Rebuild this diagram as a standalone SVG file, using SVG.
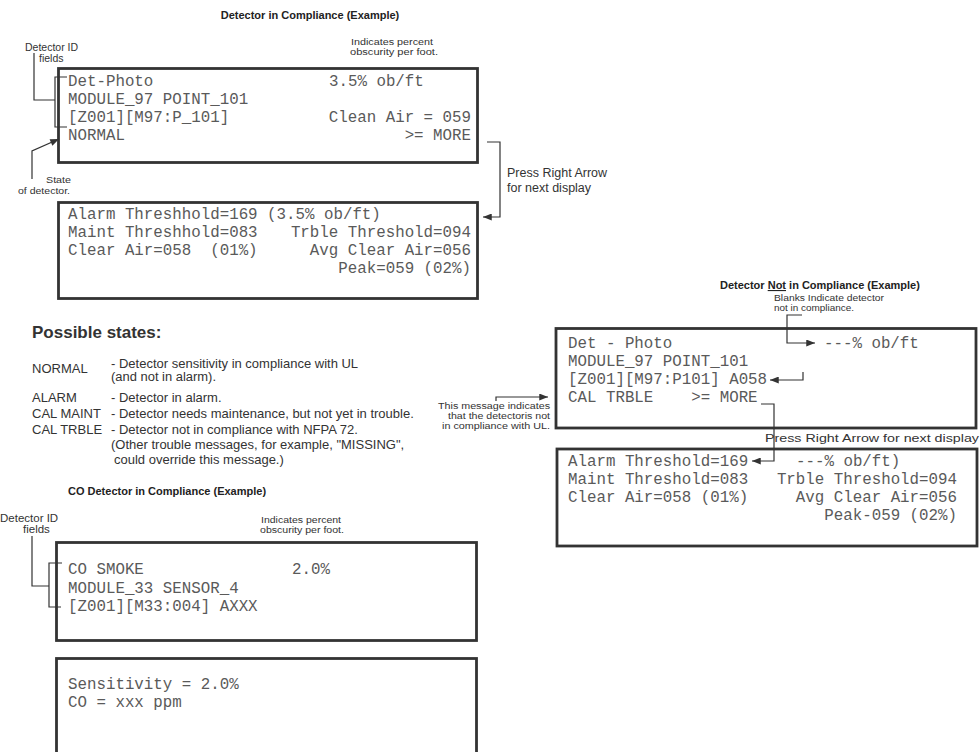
<svg xmlns="http://www.w3.org/2000/svg" width="980" height="752" viewBox="0 0 980 752">
<defs>
<style>
.bg{fill:#ffffff}
.box{fill:#ffffff;stroke:#333333;stroke-width:2.8}
.lcd{font-family:"Liberation Mono","DejaVu Sans Mono",monospace;font-size:15.8px;fill:#5a5a5a}
.ttl{font-family:"Liberation Sans",Arial,sans-serif;font-size:11px;font-weight:bold;fill:#222222}
.ann{font-family:"Liberation Sans",Arial,sans-serif;font-size:10.5px;fill:#333333}
.sm{font-family:"Liberation Sans",Arial,sans-serif;font-size:9.6px;fill:#333333}
.st{font-family:"Liberation Sans",Arial,sans-serif;font-size:13px;fill:#333333}
.hd{font-family:"Liberation Sans",Arial,sans-serif;font-size:17px;font-weight:bold;fill:#333333}
.ln{fill:none;stroke:#333333;stroke-width:1.2}
.end{text-anchor:end}
</style>
<marker id="ah" viewBox="0 0 10 8" refX="10" refY="4" markerWidth="10" markerHeight="7" markerUnits="userSpaceOnUse" orient="auto">
<path d="M0,0 L10,4 L0,8 z" fill="#333333"/>
</marker>
</defs>
<rect class="bg" x="0" y="0" width="980" height="752"/>

<!-- Titles and annotations (left, top) -->
<text class="ttl" x="310" y="19" text-anchor="middle">Detector in Compliance (Example)</text>
<text class="ann" x="25" y="51">Detector ID</text>
<text class="ann" x="39" y="62">fields</text>
<text class="sm" x="351" y="45" textLength="82" lengthAdjust="spacingAndGlyphs">Indicates percent</text>
<text class="sm" x="350" y="55" textLength="88" lengthAdjust="spacingAndGlyphs">obscurity per foot.</text>
<text class="sm end" x="71" y="183" textLength="25" lengthAdjust="spacingAndGlyphs">State</text>
<text class="sm end" x="70" y="194" textLength="52" lengthAdjust="spacingAndGlyphs">of detector.</text>
<text class="st" x="507" y="177" style="font-size:12.5px">Press Right Arrow</text>
<text class="st" x="507" y="192" style="font-size:12.5px">for next display</text>

<!-- Box 1 -->
<g id="display1">
<rect class="box" x="58.5" y="68.5" width="419" height="94"/>
<text class="lcd" x="68" y="86">Det-Photo</text>
<text class="lcd" x="329" y="86">3.5% ob/ft</text>
<text class="lcd" x="68" y="104">MODULE_97 POINT_101</text>
<text class="lcd" x="68" y="122">[Z001][M97:P_101]</text>
<text class="lcd end" x="471" y="122">Clean Air = 059</text>
<text class="lcd" x="68" y="140">NORMAL</text>
<text class="lcd end" x="471" y="140">&gt;= MORE</text>
</g>

<!-- Box 2 -->
<g id="display2">
<rect class="box" x="58.5" y="202.5" width="419" height="96"/>
<text class="lcd" x="68" y="219">Alarm Threshhold=169 (3.5% ob/ft)</text>
<text class="lcd" x="68" y="237">Maint Threshhold=083</text>
<text class="lcd end" x="471" y="237">Trble Threshold=094</text>
<text class="lcd" x="68" y="255" xml:space="preserve">Clear Air=058  (01%)</text>
<text class="lcd end" x="471" y="255">Avg Clear Air=056</text>
<text class="lcd end" x="471" y="273">Peak=059 (02%)</text>
</g>

<!-- Possible states -->
<g id="states">
<text class="hd" x="32" y="338">Possible states:</text>
<text class="st" x="32" y="373">NORMAL</text>
<text class="st" x="111" y="368">- Detector sensitivity in compliance with UL</text>
<text class="st" x="111" y="381" style="font-size:12px" textLength="105" lengthAdjust="spacingAndGlyphs">(and not in alarm).</text>
<text class="st" x="32" y="402">ALARM</text>
<text class="st" x="111" y="402">- Detector in alarm.</text>
<text class="st" x="32" y="418">CAL MAINT</text>
<text class="st" x="111" y="418">- Detector needs maintenance, but not yet in trouble.</text>
<text class="st" x="32" y="434">CAL TRBLE</text>
<text class="st" x="111" y="434">- Detector not in compliance with NFPA 72.</text>
<text class="st" x="111" y="449">(Other trouble messages, for example, "MISSING",</text>
<text class="st" x="114" y="464">could override this message.)</text>
</g>

<!-- CO section -->
<text class="ttl" x="68" y="495">CO Detector in Compliance (Example)</text>
<text class="ann" x="0" y="522" style="font-size:11.5px">Detector ID</text>
<text class="ann" x="23" y="533" style="font-size:11.5px">fields</text>
<text class="sm" x="261" y="523" textLength="80" lengthAdjust="spacingAndGlyphs">Indicates percent</text>
<text class="sm" x="260" y="533" textLength="84" lengthAdjust="spacingAndGlyphs">obscurity per foot.</text>

<g id="display3">
<rect class="box" x="56.5" y="542.5" width="420" height="98"/>
<text class="lcd" x="68" y="574">CO SMOKE</text>
<text class="lcd" x="292" y="574">2.0%</text>
<text class="lcd" x="68" y="593">MODULE_33 SENSOR_4</text>
<text class="lcd" x="68" y="611">[Z001][M33:004] AXXX</text>
</g>

<g id="display4">
<rect class="box" x="56.5" y="658.5" width="420" height="110"/>
<text class="lcd" x="68" y="689">Sensitivity = 2.0%</text>
<text class="lcd" x="68" y="707">CO = xxx ppm</text>
</g>

<!-- Right side annotations -->
<text class="ttl" x="720" y="289">Detector <tspan style="text-decoration:underline">Not</tspan> in Compliance (Example)</text>
<text class="sm" x="774" y="301" textLength="110" lengthAdjust="spacingAndGlyphs">Blanks Indicate detector</text>
<text class="sm" x="774" y="311" textLength="80" lengthAdjust="spacingAndGlyphs">not in compliance.</text>
<text class="ann" x="778" y="369" style="font-size:11px">Current value</text>
<text class="sm end" x="550" y="409" textLength="112" lengthAdjust="spacingAndGlyphs">This message indicates</text>
<text class="sm end" x="550" y="419" textLength="102" lengthAdjust="spacingAndGlyphs">that the detectoris not</text>
<text class="sm end" x="550" y="429" textLength="108" lengthAdjust="spacingAndGlyphs">in compliance with UL.</text>
<text class="ann end" x="979" y="442" style="font-size:11.5px" textLength="214" lengthAdjust="spacingAndGlyphs">Press Right Arrow for next display</text>

<g id="display5">
<rect class="box" x="556" y="328.5" width="420" height="99.5"/>
<text class="lcd" x="568" y="348">Det - Photo</text>
<text class="lcd" x="824" y="348">---% ob/ft</text>
<text class="lcd" x="568" y="366">MODULE_97 POINT_101</text>
<text class="lcd" x="568" y="384">[Z001][M97:P101] A058</text>
<text class="lcd" x="568" y="402" xml:space="preserve">CAL TRBLE    &gt;= MORE</text>
</g>

<g id="display6">
<rect class="box" x="557" y="449" width="420" height="97"/>
<text class="lcd" x="568" y="466">Alarm Threshold=169</text>
<text class="lcd" x="796" y="466">---% ob/ft)</text>
<text class="lcd" x="568" y="484">Maint Threshold=083</text>
<text class="lcd end" x="957" y="484">Trble Threshold=094</text>
<text class="lcd" x="568" y="502">Clear Air=058 (01%)</text>
<text class="lcd end" x="957" y="502">Avg Clear Air=056</text>
<text class="lcd end" x="957" y="520">Peak-059 (02%)</text>
</g>

<!-- Connectors -->
<g id="connectors">
<polyline class="ln" points="34,53 34,100 55,100"/>
<polyline class="ln" points="67,77 55,77 55,127 67,127"/>
<polyline class="ln" points="32,179 32,151 59,139" marker-end="url(#ah)"/>
<polyline class="ln" points="487,142 500,142 500,217 483,217" marker-end="url(#ah)"/>
<polyline class="ln" points="32,536 32,586 49,586"/>
<polyline class="ln" points="62,563 49,563 49,607 61,607"/>
<polyline class="ln" points="802,315 787,315 787,343 815,343" marker-end="url(#ah)"/>
<polyline class="ln" points="803,372 803,380 770,380" marker-end="url(#ah)"/>
<polyline class="ln" points="496,401 496,397 548,397" marker-end="url(#ah)"/>
<polyline class="ln" points="761,404 774,404 774,461 752,461" marker-end="url(#ah)"/>
</g>
</svg>
